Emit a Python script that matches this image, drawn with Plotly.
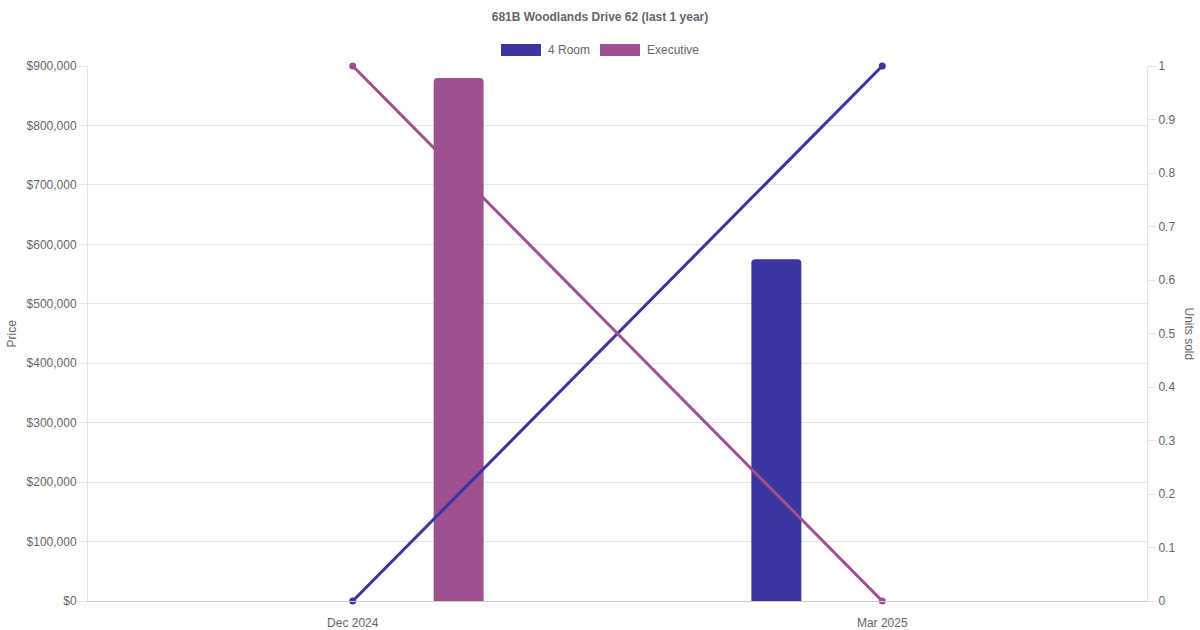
import plotly.graph_objects as go

# ---- data ----
months = ["Dec 2024", "Mar 2025"]
price_4room = [None, 575000]
price_exec = [880000, None]
units_4room = [0, 1]
units_exec = [1, 0]
series_names = ["4 Room", "Executive"]
colors = ["#3a35a0", "#9f5091"]
title_text = "681B Woodlands Drive 62 (last 1 year)"

W, H = 1200, 630
L, R, T, B = 88, 53, 66, 29
FONT = "Liberation Sans, Arial, sans-serif"
GRAY = "#666666"

fig = go.Figure()
fig.add_trace(go.Bar(x=months, y=price_4room, name=series_names[0],
                     marker=dict(color=colors[0], line=dict(width=0)),
                     showlegend=False))
fig.add_trace(go.Bar(x=months, y=price_exec, name=series_names[1],
                     marker=dict(color=colors[1], line=dict(width=0)),
                     showlegend=False))
fig.add_trace(go.Scatter(x=months, y=units_4room, yaxis="y2", mode="lines+markers",
                         line=dict(color=colors[0], width=3), cliponaxis=False,
                         marker=dict(color=colors[0], size=7), showlegend=False))
fig.add_trace(go.Scatter(x=months, y=units_exec, yaxis="y2", mode="lines+markers",
                         line=dict(color=colors[1], width=3), cliponaxis=False,
                         marker=dict(color=colors[1], size=7), showlegend=False))

pw = W - L - R
ph = H - T - B

def px_x(x):
    return (x - L) / pw

def px_y(y):
    return (H - B - y) / ph

shapes = []
annotations = []
# custom legend (Chart.js style boxes)
legend_items = [(501, series_names[0]), (600, series_names[1])]
for (x0, name), c in zip(legend_items, colors):
    shapes.append(dict(type="rect", xref="paper", yref="paper",
                       x0=px_x(x0), x1=px_x(x0 + 40), y0=px_y(56), y1=px_y(44),
                       fillcolor=c, line=dict(width=0)))
    annotations.append(dict(text=name, xref="paper", yref="paper",
                            x=px_x(x0 + 45), y=px_y(50), xanchor="left", yanchor="middle",
                            showarrow=False, font=dict(family=FONT, size=12, color=GRAY)))

annotations.append(dict(text="Price", xref="paper", yref="paper", x=px_x(11), y=0.5,
                        xanchor="center", yanchor="middle", textangle=-90, showarrow=False,
                        font=dict(family=FONT, size=12, color=GRAY)))
annotations.append(dict(text="Units sold", xref="paper", yref="paper", x=px_x(1189), y=0.5,
                        xanchor="center", yanchor="middle", textangle=90, showarrow=False,
                        font=dict(family=FONT, size=12, color=GRAY)))

fig.update_layout(
    width=W, height=H,
    margin=dict(l=L, r=R, t=T, b=B, autoexpand=False),
    paper_bgcolor="white", plot_bgcolor="white",
    font=dict(family=FONT, size=12, color=GRAY),
    title=dict(text="<b>" + title_text + "</b>", x=0.5, xanchor="center",
               y=1 - 17 / H, yanchor="middle",
               font=dict(family=FONT, size=12, color=GRAY)),
    barmode="group", bargap=0.2, bargroupgap=0.764,
    barcornerradius=4,
    showlegend=False,
    shapes=shapes, annotations=annotations,
    xaxis=dict(type="category", range=[-0.5, 1.5], showgrid=False, automargin=False,
               showline=True, linecolor="#cccccc", linewidth=1,
               ticks="", ticklabelstandoff=11,
               tickfont=dict(family=FONT, size=12, color=GRAY),
               fixedrange=True),
    yaxis=dict(range=[0, 900000], dtick=100000, tickprefix="$", tickformat=",d",
               showgrid=True, gridcolor="#e5e5e5", gridwidth=1, automargin=False,
               zeroline=False, showline=True, linecolor="#e5e5e5",
               ticks="outside", ticklen=8, tickcolor="#e5e5e5",
               tickfont=dict(family=FONT, size=12, color=GRAY)),
    yaxis2=dict(range=[0, 1], dtick=0.1, overlaying="y", side="right", automargin=False,
                showgrid=False, zeroline=False, showline=True, linecolor="#e5e5e5",
                ticks="outside", ticklen=8, tickcolor="#e5e5e5",
                tickfont=dict(family=FONT, size=12, color=GRAY)),
)

fig.write_html("out.html", config={"displayModeBar": False},
               post_script="document.body.style.margin='0';document.body.style.overflow='hidden';")
